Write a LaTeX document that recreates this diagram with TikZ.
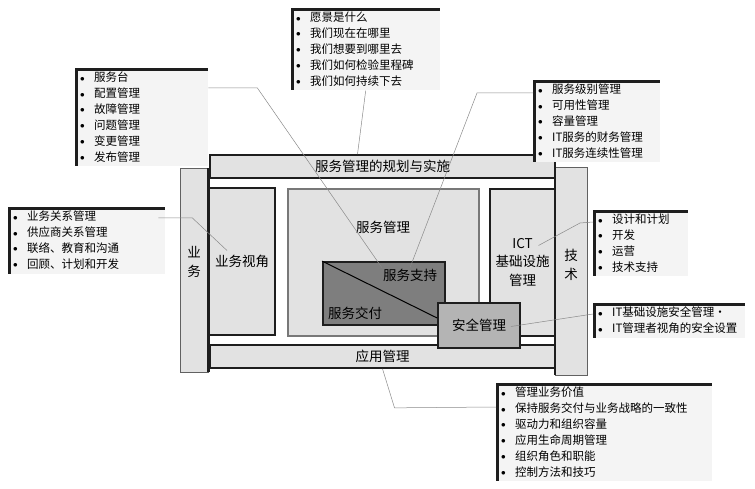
\documentclass[tikz,border=0pt]{standalone}
\usepackage{fontspec}
\setmainfont{Noto Sans CJK SC}
\usepackage{xcolor}
\usepackage{tikz}
\usetikzlibrary{positioning,calc}
\definecolor{grisZone}{HTML}{E2E2E2}
\definecolor{grisCoeur}{HTML}{7E7E7E}
\definecolor{grisSecu}{HTML}{B4B4B4}
\definecolor{grisNote}{HTML}{F4F4F4}
\definecolor{grisTrait}{HTML}{8A8A8A}
\definecolor{noirBord}{HTML}{1E1E1E}
\newcommand\calloutfont{\fontsize{11.5}{15.9}\selectfont}
\newcommand\zonefont{\fontsize{13.5}{18.5}\selectfont}
\newcommand\itm{\makebox[14pt][l]{\raisebox{0.8pt}{\small$\bullet$}}}
\tikzset{
  sideBar/.style={rectangle, draw=noirBord!70, line width=0.6pt, fill=grisZone, inner sep=0pt},
  bordEpais/.style={draw=noirBord, line width=2.4pt},
  zone/.style={rectangle, draw=noirBord, line width=1.7pt, fill=grisZone,
    align=center, font=\zonefont, inner sep=0pt},
  coreZone/.style={zone, fill=grisCoeur},
  secZone/.style={zone, fill=grisSecu},
  zoneLabel/.style={align=center, font=\zonefont, inner sep=1pt},
  callout/.style={rectangle, anchor=north west, fill=grisNote, align=left,
    font=\calloutfont, inner xsep=5pt, inner ysep=4pt,
    path picture={\draw[line width=6pt, noirBord]
      (path picture bounding box.south west) -- (path picture bounding box.north west)
      -- (path picture bounding box.north east);}},
  lien/.style={draw=grisTrait, line width=0.5pt},
  diagonale/.style={draw=black, line width=1pt}
}

\begin{document}
\begin{tikzpicture}[x=1pt, y=-1pt]
  \useasboundingbox (0,0) rectangle (755,489);

  % --- Barres exterieures : business et technique
  \node[sideBar, minimum width=28pt, minimum height=204pt] (bizBar) at (194,270) {};
  \node[sideBar, minimum width=32pt, minimum height=208pt] (techBar) at (571,271) {};
  \draw[bordEpais] (bizBar.north east) -- (bizBar.south east);
  \draw[bordEpais] (techBar.north west) -- (techBar.south west);
  \node[zoneLabel] (bizLbl)  at (194,262) {业\\务};
  \node[zoneLabel] (techLbl) at (571,265) {技\\术};

  % --- Cadre interieur
  \node[zone, minimum width=345pt, minimum height=23pt]  (planBar) at (382.5,166.5) {服务管理的规划与实施};
  \node[zone, minimum width=345pt, minimum height=23pt]  (appBar)  at (382.5,356.5) {应用管理};
  \node[zone, minimum width=66pt,  minimum height=147pt] (viewBox) at (242,261.5)   {业务视角};
  \node[zone, draw=noirBord!60, minimum width=191pt, minimum height=147pt] (svcBox) at (383.5,262.5) {};
  \node[zoneLabel] (svcLbl) at (383,227) {服务管理};
  \node[zone, minimum width=65pt,  minimum height=147pt] (ictBox)  at (522.5,262.5) {ICT\\基础设施\\管理};

  % --- Coeur : support et livraison, securite
  \node[coreZone, minimum width=122pt, minimum height=63pt] (coreBox) at (384,293.5) {};
  \node[zoneLabel] (supLbl) at (410,275) {服务支持};
  \node[zoneLabel] (delLbl) at (355,313) {服务交付};
  \node[secZone, minimum width=82pt, minimum height=45pt] (secBox) at (479,325.5) {安全管理};
  \draw[diagonale] (coreBox.north west) -- ($(secBox.west)+(0,-7.5)$);

  % --- Encadres de notes
  \node[callout, text width=139pt] (callPlan) at (291,8)
    {\itm 愿景是什么\\ \itm 我们现在在哪里\\ \itm 我们想要到哪里去\\
     \itm 我们如何检验里程碑\\ \itm 我们如何持续下去};
  \node[callout, text width=123pt] (callSupport) at (75,68)
    {\itm 服务台\\ \itm 配置管理\\ \itm 故障管理\\ \itm 问题管理\\
     \itm 变更管理\\ \itm 发布管理};
  \node[callout, text width=117pt] (callDelivery) at (533,80)
    {\itm 服务级别管理\\ \itm 可用性管理\\ \itm 容量管理\\
     \itm IT服务的财务管理\\ \itm IT服务连续性管理};
  \node[callout, text width=147pt] (callBiz) at (8,207)
    {\itm 业务关系管理\\ \itm 供应商关系管理\\ \itm 联络、教育和沟通\\
     \itm 回顾、计划和开发};
  \node[callout, text width=85pt] (callTech) at (593,210)
    {\itm 设计和计划\\ \itm 开发\\ \itm 运营\\ \itm 技术支持};
  \node[callout, text width=142pt] (callSec) at (593,303)
    {\itm IT基础设施安全管理·\\ \itm IT管理者视角的安全设置};
  \node[callout, text width=206pt] (callApp) at (496,383)
    {\itm 管理业务价值\\ \itm 保持服务交付与业务战略的一致性\\ \itm 驱动力和组织容量\\
     \itm 应用生命周期管理\\ \itm 组织角色和职能\\ \itm 控制方法和技巧};

  % --- Traits de rappel
  \draw[lien] (callPlan.south) -- ([xshift=-25pt]planBar.north);
  \draw[lien] ($(callSupport.north east)+(0,20)$) -- ++(49,0) -- (supLbl.north west);
  \draw[lien] ($(callDelivery.north west)+(0,13)$) -- ++(-56,0) -- (supLbl.north);
  \draw[lien] ($(callBiz.north east)+(-7,11)$) -- ++(34,0) -- ($(viewBox.center)+(-15,-11)$);
  \draw[lien] ($(callTech.north west)+(0,12)$) -- ++(-13,1) -- ($(ictBox.center)+(16,-17)$);
  \draw[lien] ($(callSec.north west)+(0,11)$) -- ($(secBox.east)+(-10,1)$);
  \draw[lien] (appBar.south) -- ++(12,39) -- ($(callApp.north west)+(0,24)$);

\end{tikzpicture}
\end{document}
